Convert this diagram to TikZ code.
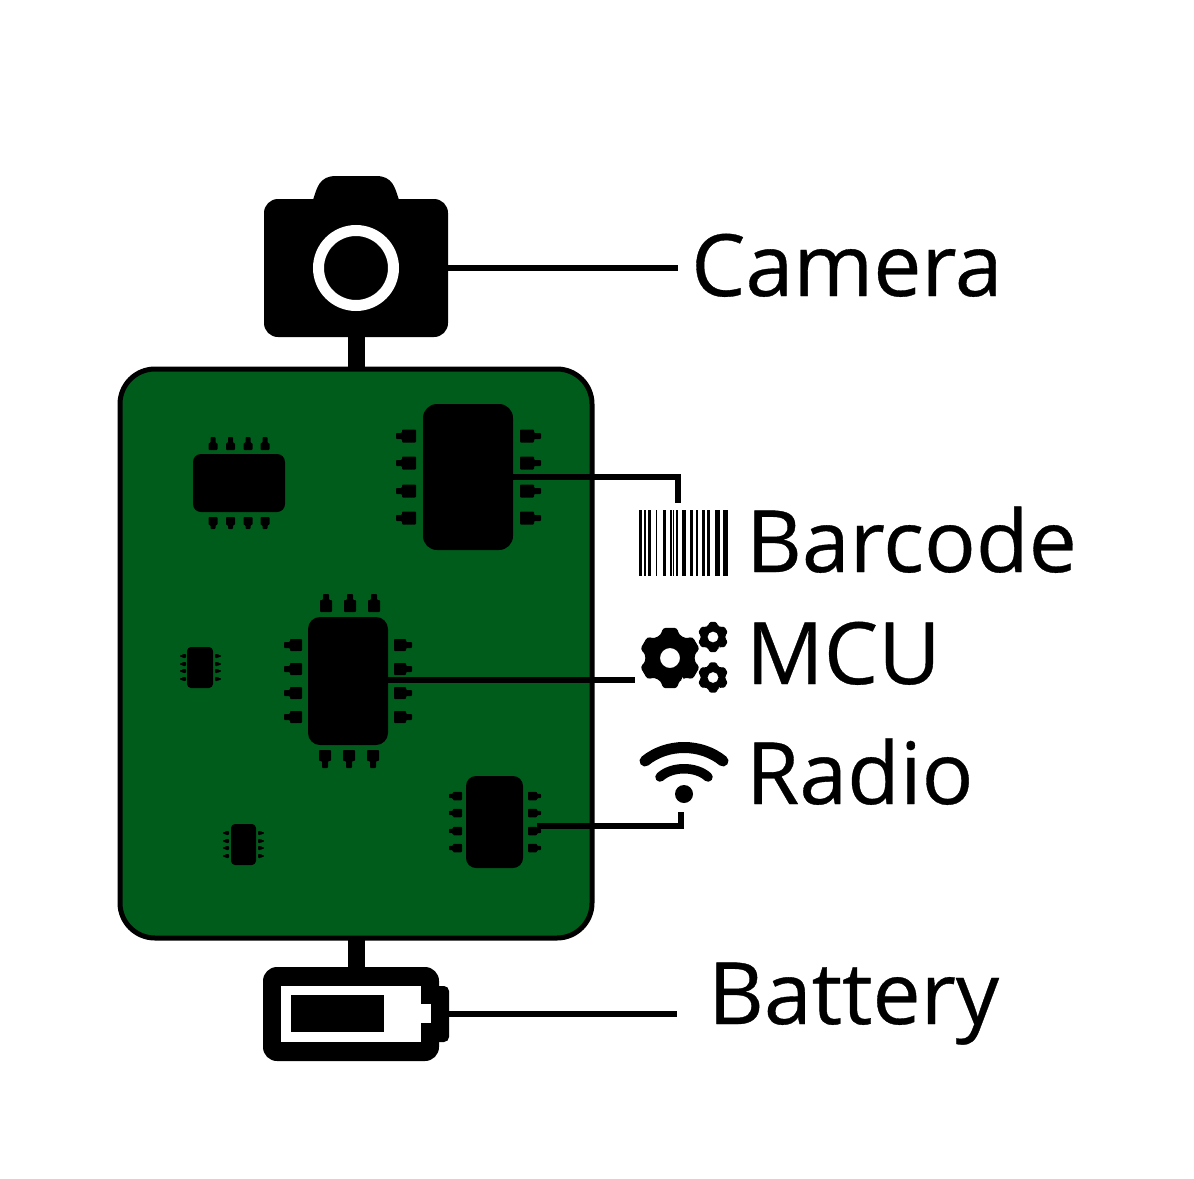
\documentclass[tikz,border=0pt]{standalone}
\usepackage{fontspec}
\setmainfont{Open Sans}
\newfontfamily\lblfont[FakeBold=0.4]{Open Sans}
\definecolor{pcb}{RGB}{0,92,27}
\tikzset{
  lbl/.style={anchor=base west,inner sep=0pt,font=\fontsize{86}{86}\lblfont\selectfont,text=black},
  chipbox/.style={fill=black,rectangle,rounded corners=#1,inner sep=0pt,outer sep=0pt},
  conn/.style={line width=5.5pt,black},
  stem/.style={line width=17pt,black},
}
\newcommand{\hpin}[6]{\fill[black,rounded corners=0.8pt] (#2,#1-#3) -- (#5,#1-#3) -- (#5,#1-#6) -- (#4,#1-#6) -- (#4,#1+#6) -- (#5,#1+#6) -- (#5,#1+#3) -- (#2,#1+#3) -- cycle;}
\newcommand{\vpin}[6]{\fill[black,rounded corners=0.8pt] (#1-#3,#2) -- (#1-#3,#5) -- (#1-#6,#5) -- (#1-#6,#4) -- (#1+#6,#4) -- (#1+#6,#5) -- (#1+#3,#5) -- (#1+#3,#2) -- cycle;}
\newcommand{\gearshape}[4]{%
  \begin{scope}[shift={(#1,#2)}]
  \fill[black,even odd rule] [rounded corners=#3*0.09pt] (60:#3*0.8)
    \foreach \t in {90,150,210,270,330,390}{ -- (\t-30:#3*0.8) -- (\t-22:#3*0.8) -- (\t-13:#3) -- (\t+13:#3) -- (\t+22:#3*0.8)} -- cycle
    [sharp corners] (0,0) circle[radius=#4];
  \end{scope}}
\begin{document}
\begin{tikzpicture}[x=1pt,y=-1pt]
\useasboundingbox (0,0) rectangle (1194,1178);
\fill[white] (0,0) rectangle (1194,1178);
% board
\node[draw=black,line width=5pt,fill=pcb,rounded corners=35pt,minimum width=472pt,minimum height=569pt,inner sep=0pt,outer sep=0pt] (board) at (356,653.5) {};
% camera
\node[chipbox=14pt,minimum width=184pt,minimum height=138pt] (cam) at (356,268) {};
\fill[black] (313,200) .. controls (317,188) and (319,176) .. (336,176) -- (376,176) .. controls (393,176) and (395,188) .. (399,200) -- cycle;
\node[circle,draw=white,line width=11pt,fill=black,minimum size=75pt,inner sep=0pt] (lens) at (356,268) {};
% battery
\node[chipbox=14pt,minimum width=176pt,minimum height=94pt] (batt) at (351,1014) {};
\node[fill=white,rectangle,inner sep=0pt,minimum width=140pt,minimum height=56pt] (battin) at (351,1014) {};
\node[fill=black,rectangle,inner sep=0pt,minimum width=93pt,minimum height=37pt] (charge) at (337.5,1013.5) {};
\node[fill=black,rectangle,rounded corners=5pt,inner sep=0pt,outer sep=0pt,minimum width=20pt,minimum height=56pt] (term) at (439,1014) {};
\fill[black] (421,986) rectangle (439,1042);
\node[fill=white,rectangle,inner sep=0pt,minimum width=10pt,minimum height=19pt] (nub) at (426,1013.5) {};
% stems
\draw[stem] (cam.south) -- (board.north);
\draw[stem] (board.south) -- (board.south |- batt.north);
% chip A upper left
\node[chipbox=8pt,minimum width=92pt,minimum height=58pt] (chipA) at (239,483) {};
\foreach \c in {213,230.5,248,265}{\vpin{\c}{450}{4.5}{437}{443}{2.5}\vpin{\c}{517}{4.5}{529}{525}{2.5}}
% chip B barcode
\node[chipbox=14pt,minimum width=90pt,minimum height=146pt] (chipB) at (468,477) {};
\foreach \c in {436,463,491,518}{\hpin{\c}{416}{6.5}{396}{402}{3}\hpin{\c}{520}{6.5}{541}{534}{3}}
% chip C MCU
\node[chipbox=12pt,minimum width=80pt,minimum height=128pt] (chipC) at (348,681) {};
\foreach \c in {645,669,693,717}{\hpin{\c}{302}{6}{284}{290}{3}\hpin{\c}{394}{6}{412}{406}{3}}
\foreach \c in {326,350,374}{\vpin{\c}{612}{6}{594}{600}{3}}
\foreach \c in {325,349,373}{\vpin{\c}{750}{6}{768}{761}{3}}
% chip D radio
\node[chipbox=10pt,minimum width=57pt,minimum height=92pt] (chipD) at (494.5,822) {};
\foreach \c in {796,813,831,848}{\hpin{\c}{462}{4.25}{449}{453}{2.2}\hpin{\c}{528}{4.25}{541}{537}{2.2}}
% small chips
\node[chipbox=4pt,minimum width=26pt,minimum height=41pt] (chipE) at (200,667.5) {};
\foreach \c in {656,664,671,679}{\hpin{\c}{186}{2}{180}{183}{1}\hpin{\c}{215}{2}{221}{218}{1}}
\node[chipbox=4pt,minimum width=25pt,minimum height=41pt] (chipF) at (243.5,844.5) {};
\foreach \c in {833,841,848,856}{\hpin{\c}{229}{2}{223}{226}{1}\hpin{\c}{258}{2}{264}{261}{1}}
% connector ends
\coordinate (camEnd) at (678,268);
\coordinate (barEnd) at (678,503);
\coordinate (mcuEnd) at (635,680);
\coordinate (radEnd) at (681,812);
\coordinate (radPin) at (537,826);
\coordinate (batEnd) at (677,1014);
\draw[conn] (cam.east |- camEnd) -- (camEnd);
\draw[conn] (chipB.east) -- (barEnd |- chipB.east) -- (barEnd);
\draw[conn] (chipC.east |- mcuEnd) -- (mcuEnd);
\draw[conn] (radPin) -- (radEnd |- radPin) -- (radEnd);
\draw[conn] (term.east) -- (batEnd);
% barcode icon
\foreach \a/\b in {639.3/642.3,644/645.7,648.3/650.7,656/657.3,662.7/665.7,670/671.7,672.7/674,676.3/677.7,682.3/685.7,690/693,695.7/698.3,702/705,706.7/710,715/720.3,723.3/727.5}{\fill[black] (\a,510) rectangle (\b,576);}
% gears
\gearshape{670}{658}{31}{10}
\gearshape{713}{637}{15.5}{5.5}
\gearshape{713}{677.5}{15.5}{5.5}
% wifi
\draw[black,line width=11pt,line cap=round] (645,761) .. controls (667,743) and (701,743) .. (723,761);
\draw[black,line width=9.5pt,line cap=round] (660,777) .. controls (672,766) and (696,766) .. (708,777);
\node[circle,fill=black,minimum size=18pt,inner sep=0pt] (wifidot) at (684,794) {};
% labels
\node[lbl] (tCam) at (691,296) {Camera};
\node[lbl] (tBar) at (746,572) {Barcode};
\node[lbl] (tMcu) at (746,684) {MCU};
\node[lbl] (tRad) at (746,804) {Radio};
\node[lbl] (tBat) at (708,1024) {Battery};
\end{tikzpicture}
\end{document}
